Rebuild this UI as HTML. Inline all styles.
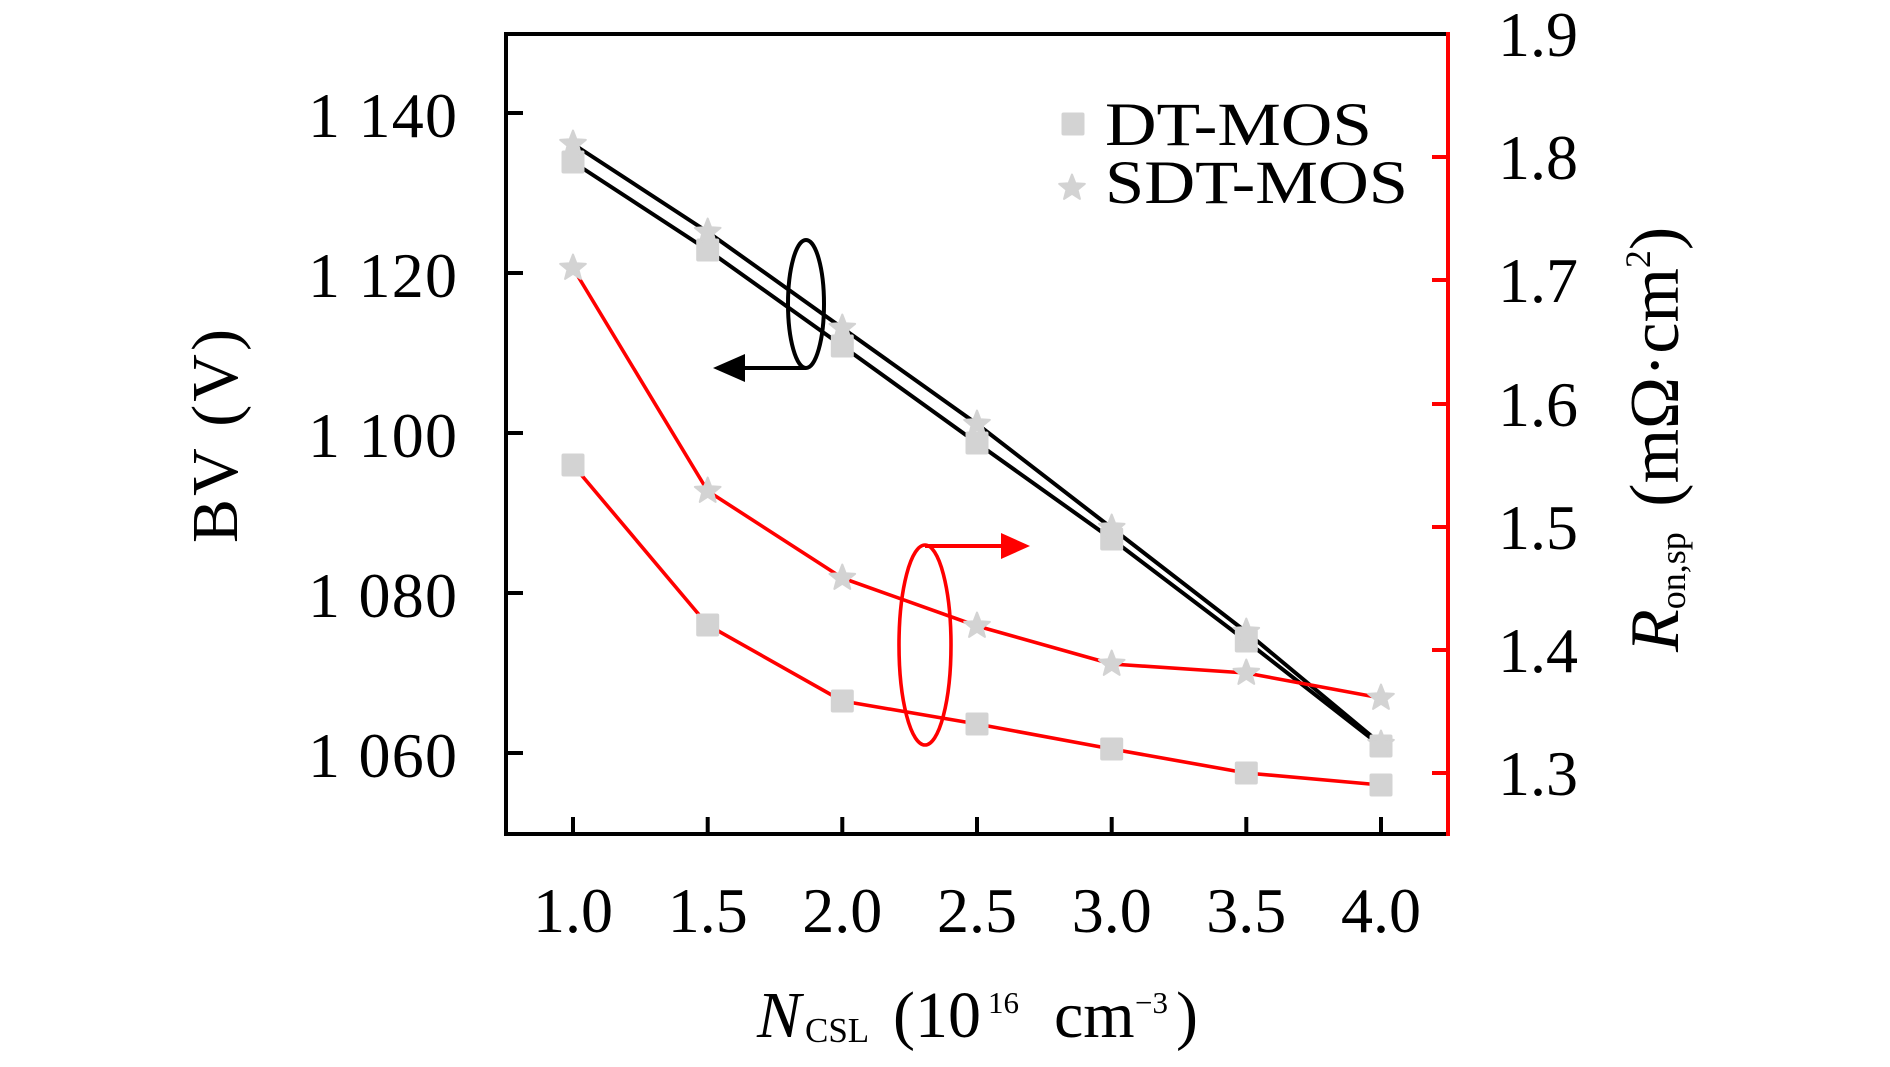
<!DOCTYPE html>
<html>
<head>
<meta charset="utf-8">
<style>
html,body{margin:0;padding:0;background:#fff;}
svg{display:block;}
text{font-family:"Liberation Serif","DejaVu Serif",serif;fill:#000;}
</style>
</head>
<body>
<svg width="1890" height="1067" viewBox="0 0 1890 1067" xmlns="http://www.w3.org/2000/svg">
<defs>
  <path id="star" d="M0,-13.5 L3.41,-4.69 L12.84,-4.17 L5.52,1.79 L7.94,10.92 L0,5.8 L-7.94,10.92 L-5.52,1.79 L-12.84,-4.17 L-3.41,-4.69 Z" fill="#d3d3d3" stroke="#d3d3d3" stroke-width="2" stroke-linejoin="round"/>
  <rect id="sq" x="-11.5" y="-11.5" width="23" height="23" rx="2" fill="#d3d3d3"/>
</defs>

<!-- axes frame -->
<line x1="504" y1="34" x2="1448" y2="34" stroke="#000" stroke-width="4"/>
<line x1="504" y1="834" x2="1448" y2="834" stroke="#000" stroke-width="4"/>
<line x1="506" y1="32" x2="506" y2="836" stroke="#000" stroke-width="4"/>
<line x1="1448" y1="32" x2="1448" y2="836" stroke="#ff0000" stroke-width="4"/>

<!-- left ticks -->
<g stroke="#000" stroke-width="4">
  <line x1="506" y1="113" x2="523" y2="113"/>
  <line x1="506" y1="273" x2="523" y2="273"/>
  <line x1="506" y1="433" x2="523" y2="433"/>
  <line x1="506" y1="593" x2="523" y2="593"/>
  <line x1="506" y1="753" x2="523" y2="753"/>
</g>
<!-- right ticks -->
<g stroke="#ff0000" stroke-width="4">
  <line x1="1432" y1="157" x2="1448" y2="157"/>
  <line x1="1432" y1="280" x2="1448" y2="280"/>
  <line x1="1432" y1="404" x2="1448" y2="404"/>
  <line x1="1432" y1="527" x2="1448" y2="527"/>
  <line x1="1432" y1="650" x2="1448" y2="650"/>
  <line x1="1432" y1="773" x2="1448" y2="773"/>
</g>
<!-- bottom ticks -->
<g stroke="#000" stroke-width="4">
  <line x1="573" y1="834" x2="573" y2="817"/>
  <line x1="707.7" y1="834" x2="707.7" y2="817"/>
  <line x1="842.3" y1="834" x2="842.3" y2="817"/>
  <line x1="977" y1="834" x2="977" y2="817"/>
  <line x1="1111.7" y1="834" x2="1111.7" y2="817"/>
  <line x1="1246.3" y1="834" x2="1246.3" y2="817"/>
  <line x1="1381" y1="834" x2="1381" y2="817"/>
</g>

<!-- left tick labels -->
<g font-size="64">
  <text x="308" y="137" textLength="149" lengthAdjust="spacing">1 140</text>
  <text x="308" y="297" textLength="149" lengthAdjust="spacing">1 120</text>
  <text x="308" y="457" textLength="149" lengthAdjust="spacing">1 100</text>
  <text x="308" y="617" textLength="149" lengthAdjust="spacing">1 080</text>
  <text x="308" y="777" textLength="149" lengthAdjust="spacing">1 060</text>
</g>
<!-- right tick labels -->
<g font-size="64" text-anchor="start">
  <text x="1498" y="56">1.9</text>
  <text x="1498" y="179">1.8</text>
  <text x="1498" y="302">1.7</text>
  <text x="1498" y="426">1.6</text>
  <text x="1498" y="549">1.5</text>
  <text x="1498" y="672">1.4</text>
  <text x="1498" y="795">1.3</text>
</g>
<!-- bottom tick labels -->
<g font-size="64" text-anchor="middle">
  <text x="573" y="932">1.0</text>
  <text x="707.7" y="932">1.5</text>
  <text x="842.3" y="932">2.0</text>
  <text x="977" y="932">2.5</text>
  <text x="1111.7" y="932">3.0</text>
  <text x="1246.3" y="932">3.5</text>
  <text x="1381" y="932">4.0</text>
</g>

<!-- x axis title -->
<text x="757" y="1037" font-size="66" font-style="italic">N</text>
<text x="805" y="1042" font-size="35">CSL</text>
<text x="893" y="1037" font-size="66">(10</text>
<text x="988" y="1013" font-size="31">16</text>
<text x="1054" y="1037" font-size="66">cm</text>
<text x="1135" y="1013" font-size="31">−3</text>
<text x="1176" y="1037" font-size="66">)</text>

<!-- left axis title -->
<text transform="translate(237,436) rotate(-90)" text-anchor="middle" font-size="66" textLength="214" lengthAdjust="spacing">BV (V)</text>

<!-- right axis title -->
<text transform="translate(1678,652) rotate(-90)" font-size="70"><tspan font-style="italic">R</tspan><tspan font-size="36" dy="7">on,sp</tspan><tspan dy="-7" dx="8"> (mΩ·cm</tspan><tspan font-size="36" dy="-28">2</tspan><tspan dy="28">)</tspan></text>

<!-- BV lines (black) -->
<polyline points="573,162 707.7,250 842.3,346 977,443 1111.7,539 1246.3,641 1381,746" fill="none" stroke="#000" stroke-width="4" stroke-linejoin="round"/>
<polyline points="573,144 707.7,232 842.3,328 977,424 1111.7,528 1246.3,632 1381,744" fill="none" stroke="#000" stroke-width="4" stroke-linejoin="round"/>

<!-- Ron lines (red) -->
<polyline points="573,268 707.7,491 842.3,578 977,626 1111.7,664 1246.3,673 1381,698" fill="none" stroke="#ff0000" stroke-width="3.6" stroke-linejoin="round"/>
<polyline points="573,465 707.7,625 842.3,701 977,724 1111.7,749 1246.3,773 1381,785" fill="none" stroke="#ff0000" stroke-width="3.6" stroke-linejoin="round"/>

<!-- markers: BV DT squares -->
<use href="#sq" x="573" y="162"/>
<use href="#sq" x="707.7" y="250"/>
<use href="#sq" x="842.3" y="346"/>
<use href="#sq" x="977" y="443"/>
<use href="#sq" x="1111.7" y="539"/>
<use href="#sq" x="1246.3" y="641"/>
<use href="#sq" x="1381" y="746"/>
<!-- BV SDT stars -->
<use href="#star" x="573" y="144"/>
<use href="#star" x="707.7" y="232"/>
<use href="#star" x="842.3" y="328"/>
<use href="#star" x="977" y="424"/>
<use href="#star" x="1111.7" y="528"/>
<use href="#star" x="1246.3" y="632"/>
<use href="#star" x="1381" y="744"/>
<!-- Ron SDT stars -->
<use href="#star" x="573" y="268"/>
<use href="#star" x="707.7" y="491"/>
<use href="#star" x="842.3" y="578"/>
<use href="#star" x="977" y="626"/>
<use href="#star" x="1111.7" y="664"/>
<use href="#star" x="1246.3" y="673"/>
<use href="#star" x="1381" y="698"/>
<!-- Ron DT squares -->
<use href="#sq" x="573" y="465"/>
<use href="#sq" x="707.7" y="625"/>
<use href="#sq" x="842.3" y="701"/>
<use href="#sq" x="977" y="724"/>
<use href="#sq" x="1111.7" y="749"/>
<use href="#sq" x="1246.3" y="773"/>
<use href="#sq" x="1381" y="785"/>

<!-- black annotation -->
<ellipse cx="806" cy="304" rx="18" ry="64" fill="none" stroke="#000" stroke-width="4"/>
<line x1="806" y1="368" x2="740" y2="368" stroke="#000" stroke-width="4"/>
<polygon points="713,368 745,354 745,382" fill="#000"/>

<!-- red annotation -->
<ellipse cx="925" cy="645" rx="26" ry="100" fill="none" stroke="#ff0000" stroke-width="3.6"/>
<line x1="925" y1="546" x2="1004" y2="546" stroke="#ff0000" stroke-width="4"/>
<polygon points="1030,546 1001,533 1001,559" fill="#ff0000"/>

<!-- legend -->
<use href="#sq" x="1073" y="124"/>
<text x="1105" y="145" font-size="61" textLength="267" lengthAdjust="spacingAndGlyphs">DT-MOS</text>
<use href="#star" x="1072" y="188"/>
<text x="1105" y="203" font-size="61" textLength="303" lengthAdjust="spacingAndGlyphs">SDT-MOS</text>
</svg>
</body>
</html>
